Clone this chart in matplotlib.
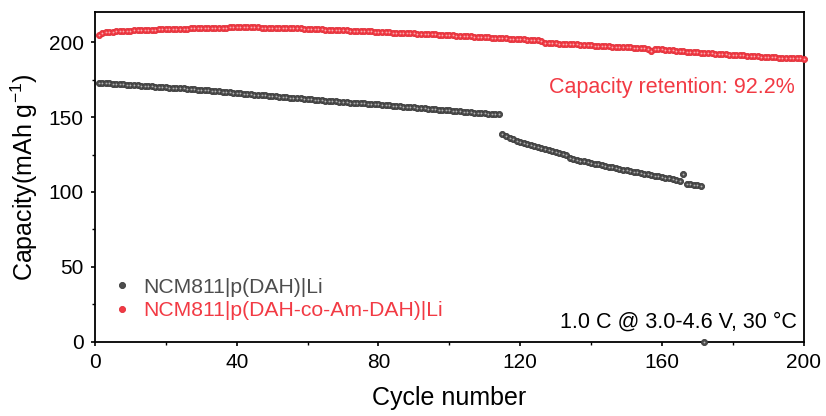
import matplotlib
matplotlib.use("Agg")
import matplotlib.pyplot as plt
import numpy as np

plt.rcParams['font.family'] = ['Liberation Sans', 'DejaVu Sans']
plt.rcParams['mathtext.fontset'] = 'custom'
plt.rcParams['mathtext.rm'] = 'Liberation Sans'
plt.rcParams['mathtext.it'] = 'Liberation Sans:italic'

# NCM811|p(DAH)|Li, cycles 1..172
dah_cap = [
    173.0, 172.9, 172.7, 172.6, 172.4, 172.3, 172.1, 171.9, 171.8, 171.6,
    171.4, 171.3, 171.1, 170.9, 170.8, 170.6, 170.4, 170.3, 170.1, 169.9,
    169.8, 169.7, 169.5, 169.4, 169.3, 169.1, 168.9, 168.7, 168.5, 168.3,
    168.1, 167.9, 167.6, 167.4, 167.2, 167.0, 166.8, 166.6, 166.3, 166.1,
    165.9, 165.7, 165.5, 165.3, 165.1, 164.9, 164.7, 164.5, 164.3, 164.1,
    163.9, 163.7, 163.5, 163.3, 163.1, 162.9, 162.7, 162.5, 162.3, 162.1,
    161.9, 161.7, 161.5, 161.3, 161.1, 160.9, 160.7, 160.5, 160.3, 160.1,
    160.0, 159.8, 159.7, 159.5, 159.4, 159.2, 159.0, 158.9, 158.7, 158.5,
    158.3, 158.1, 157.9, 157.7, 157.5, 157.3, 157.1, 156.9, 156.7, 156.5,
    156.3, 156.1, 155.9, 155.7, 155.5, 155.3, 155.1, 154.9, 154.7, 154.5,
    154.3, 154.1, 153.9, 153.7, 153.5, 153.3, 153.1, 152.9, 152.7, 152.6,
    152.4, 152.3, 152.1, 151.9,
    139.0, 137.4, 136.3, 135.3, 134.4, 133.6, 132.8, 132.1, 131.4, 130.7,
    130.0, 129.3, 128.6, 127.9, 127.3, 126.7, 126.1, 125.5, 124.6, 122.4,
    121.9, 121.4, 120.9, 120.4, 119.9, 119.4, 118.9, 118.4, 117.9, 117.4,
    116.9, 116.4, 115.9, 115.4, 114.9, 114.4, 114.0, 113.5, 113.1, 112.6,
    112.2, 111.7, 111.3, 110.8, 110.4, 110.0, 109.5, 109.1, 108.6, 108.2,
    107.5, 112.0, 105.6, 105.2, 104.8, 104.4, 104.0, 0.0,
]

# NCM811|p(DAH-co-Am-DAH)|Li, cycles 1..200
am_cap = [
    205.2, 206.3, 206.7, 207.0, 207.2, 207.3, 207.5, 207.6, 207.8, 207.9,
    208.0, 208.1, 208.2, 208.3, 208.4, 208.5, 208.6, 208.7, 208.8, 208.9,
    208.9, 209.0, 209.0, 209.1, 209.1, 209.2, 209.3, 209.4, 209.5, 209.6,
    209.7, 209.7, 209.8, 209.8, 209.9, 209.9, 209.9, 210.0, 210.0, 210.0,
    210.0, 210.0, 210.0, 210.0, 210.0, 210.0, 209.9, 209.9, 209.9, 209.8,
    209.8, 209.7, 209.7, 209.6, 209.5, 209.5, 209.4, 209.3, 209.2, 209.1,
    209.0, 208.9, 208.8, 208.7, 208.6, 208.5, 208.4, 208.3, 208.2, 208.1,
    208.0, 207.9, 207.8, 207.7, 207.6, 207.5, 207.4, 207.3, 207.2, 207.0,
    206.9, 206.8, 206.7, 206.6, 206.5, 206.4, 206.3, 206.2, 206.1, 206.0,
    205.9, 205.8, 205.6, 205.5, 205.4, 205.3, 205.2, 205.0, 204.9, 204.8,
    204.7, 204.5, 204.4, 204.3, 204.1, 204.0, 203.9, 203.7, 203.6, 203.5,
    203.3, 203.2, 203.1, 202.9, 202.8, 202.7, 202.5, 202.4, 202.2, 202.1,
    202.0, 201.8, 201.7, 201.5, 201.4, 201.2, 199.8, 199.6, 199.5, 199.4,
    199.2, 199.1, 199.0, 198.8, 198.7, 198.6, 198.4, 198.3, 198.2, 198.0,
    197.9, 197.8, 197.6, 197.5, 197.4, 197.2, 197.1, 197.0, 196.8, 196.7,
    196.6, 196.4, 196.3, 196.2, 196.0, 195.9, 194.0, 195.6, 195.4, 195.3,
    195.1, 194.9, 194.7, 194.5, 194.3, 194.1, 193.9, 193.7, 193.5, 193.3,
    193.1, 192.9, 192.7, 192.6, 192.4, 192.3, 192.2, 192.0, 191.9, 191.8,
    191.6, 191.5, 191.3, 191.2, 191.0, 190.8, 190.7, 190.5, 190.4, 190.2,
    190.1, 190.0, 189.9, 189.8, 189.7, 189.6, 189.5, 189.4, 189.3, 189.1,
]

dah_cycles = np.arange(1, len(dah_cap) + 1)
am_cycles = np.arange(1, len(am_cap) + 1)

grey = '#4d4d4d'
red = '#f23a44'

fig = plt.figure(figsize=(8.26, 4.16), dpi=100)
ax = fig.add_axes([0.115, 0.179, 0.858, 0.791])

ax.plot(dah_cycles, dah_cap, 'o', ms=4.4, color=grey, mec='#3a3a3a', mew=0.6,
        label='NCM811|p(DAH)|Li', clip_on=False, zorder=3)
ax.plot(am_cycles, am_cap, 'o', ms=4.4, color=red, mec='#e0303a', mew=0.6,
        label='NCM811|p(DAH-co-Am-DAH)|Li', clip_on=False, zorder=3)
# little highlight on each sphere
ax.plot(dah_cycles, dah_cap, 'o', ms=1.3, color='white', alpha=0.6, mew=0, zorder=4, clip_on=False)
ax.plot(am_cycles, am_cap, 'o', ms=1.3, color='white', alpha=0.6, mew=0, zorder=4, clip_on=False)

ax.set_xlim(0, 200)
ax.set_ylim(0, 220)
ax.set_xticks(np.arange(0, 201, 40))
ax.set_xticks(np.arange(0, 201, 20), minor=True)
ax.set_yticks(np.arange(0, 201, 50))
ax.set_yticks(np.arange(0, 220, 25), minor=True)
ax.tick_params(which='major', direction='out', length=3.2, width=1.2, labelsize=15, pad=5)
ax.tick_params(which='minor', direction='out', length=2, width=1.0)
for s in ax.spines.values():
    s.set_linewidth(1.3)

ax.set_xlabel('Cycle number', fontsize=18, labelpad=10)
ax.set_ylabel('Capacity(mAh g$^{-1}$)', fontsize=18, labelpad=6)

leg = ax.legend(loc='lower left', bbox_to_anchor=(0.0, 0.02), frameon=False,
                fontsize=15.2, handletextpad=0.4, markerscale=1.0,
                labelspacing=0.22, borderaxespad=0.3, handlelength=1.2)
for txt, c in zip(leg.get_texts(), [grey, red]):
    txt.set_color(c)

ax.text(0.987, 0.773, 'Capacity retention: 92.2%', transform=ax.transAxes,
        ha='right', va='center', fontsize=15.5, color=red)
ax.text(0.99, 0.06, '1.0 C @ 3.0-4.6 V, 30 \u00b0C', transform=ax.transAxes,
        ha='right', va='center', fontsize=15.5, color='black')

plt.savefig('out.png', dpi=100)
